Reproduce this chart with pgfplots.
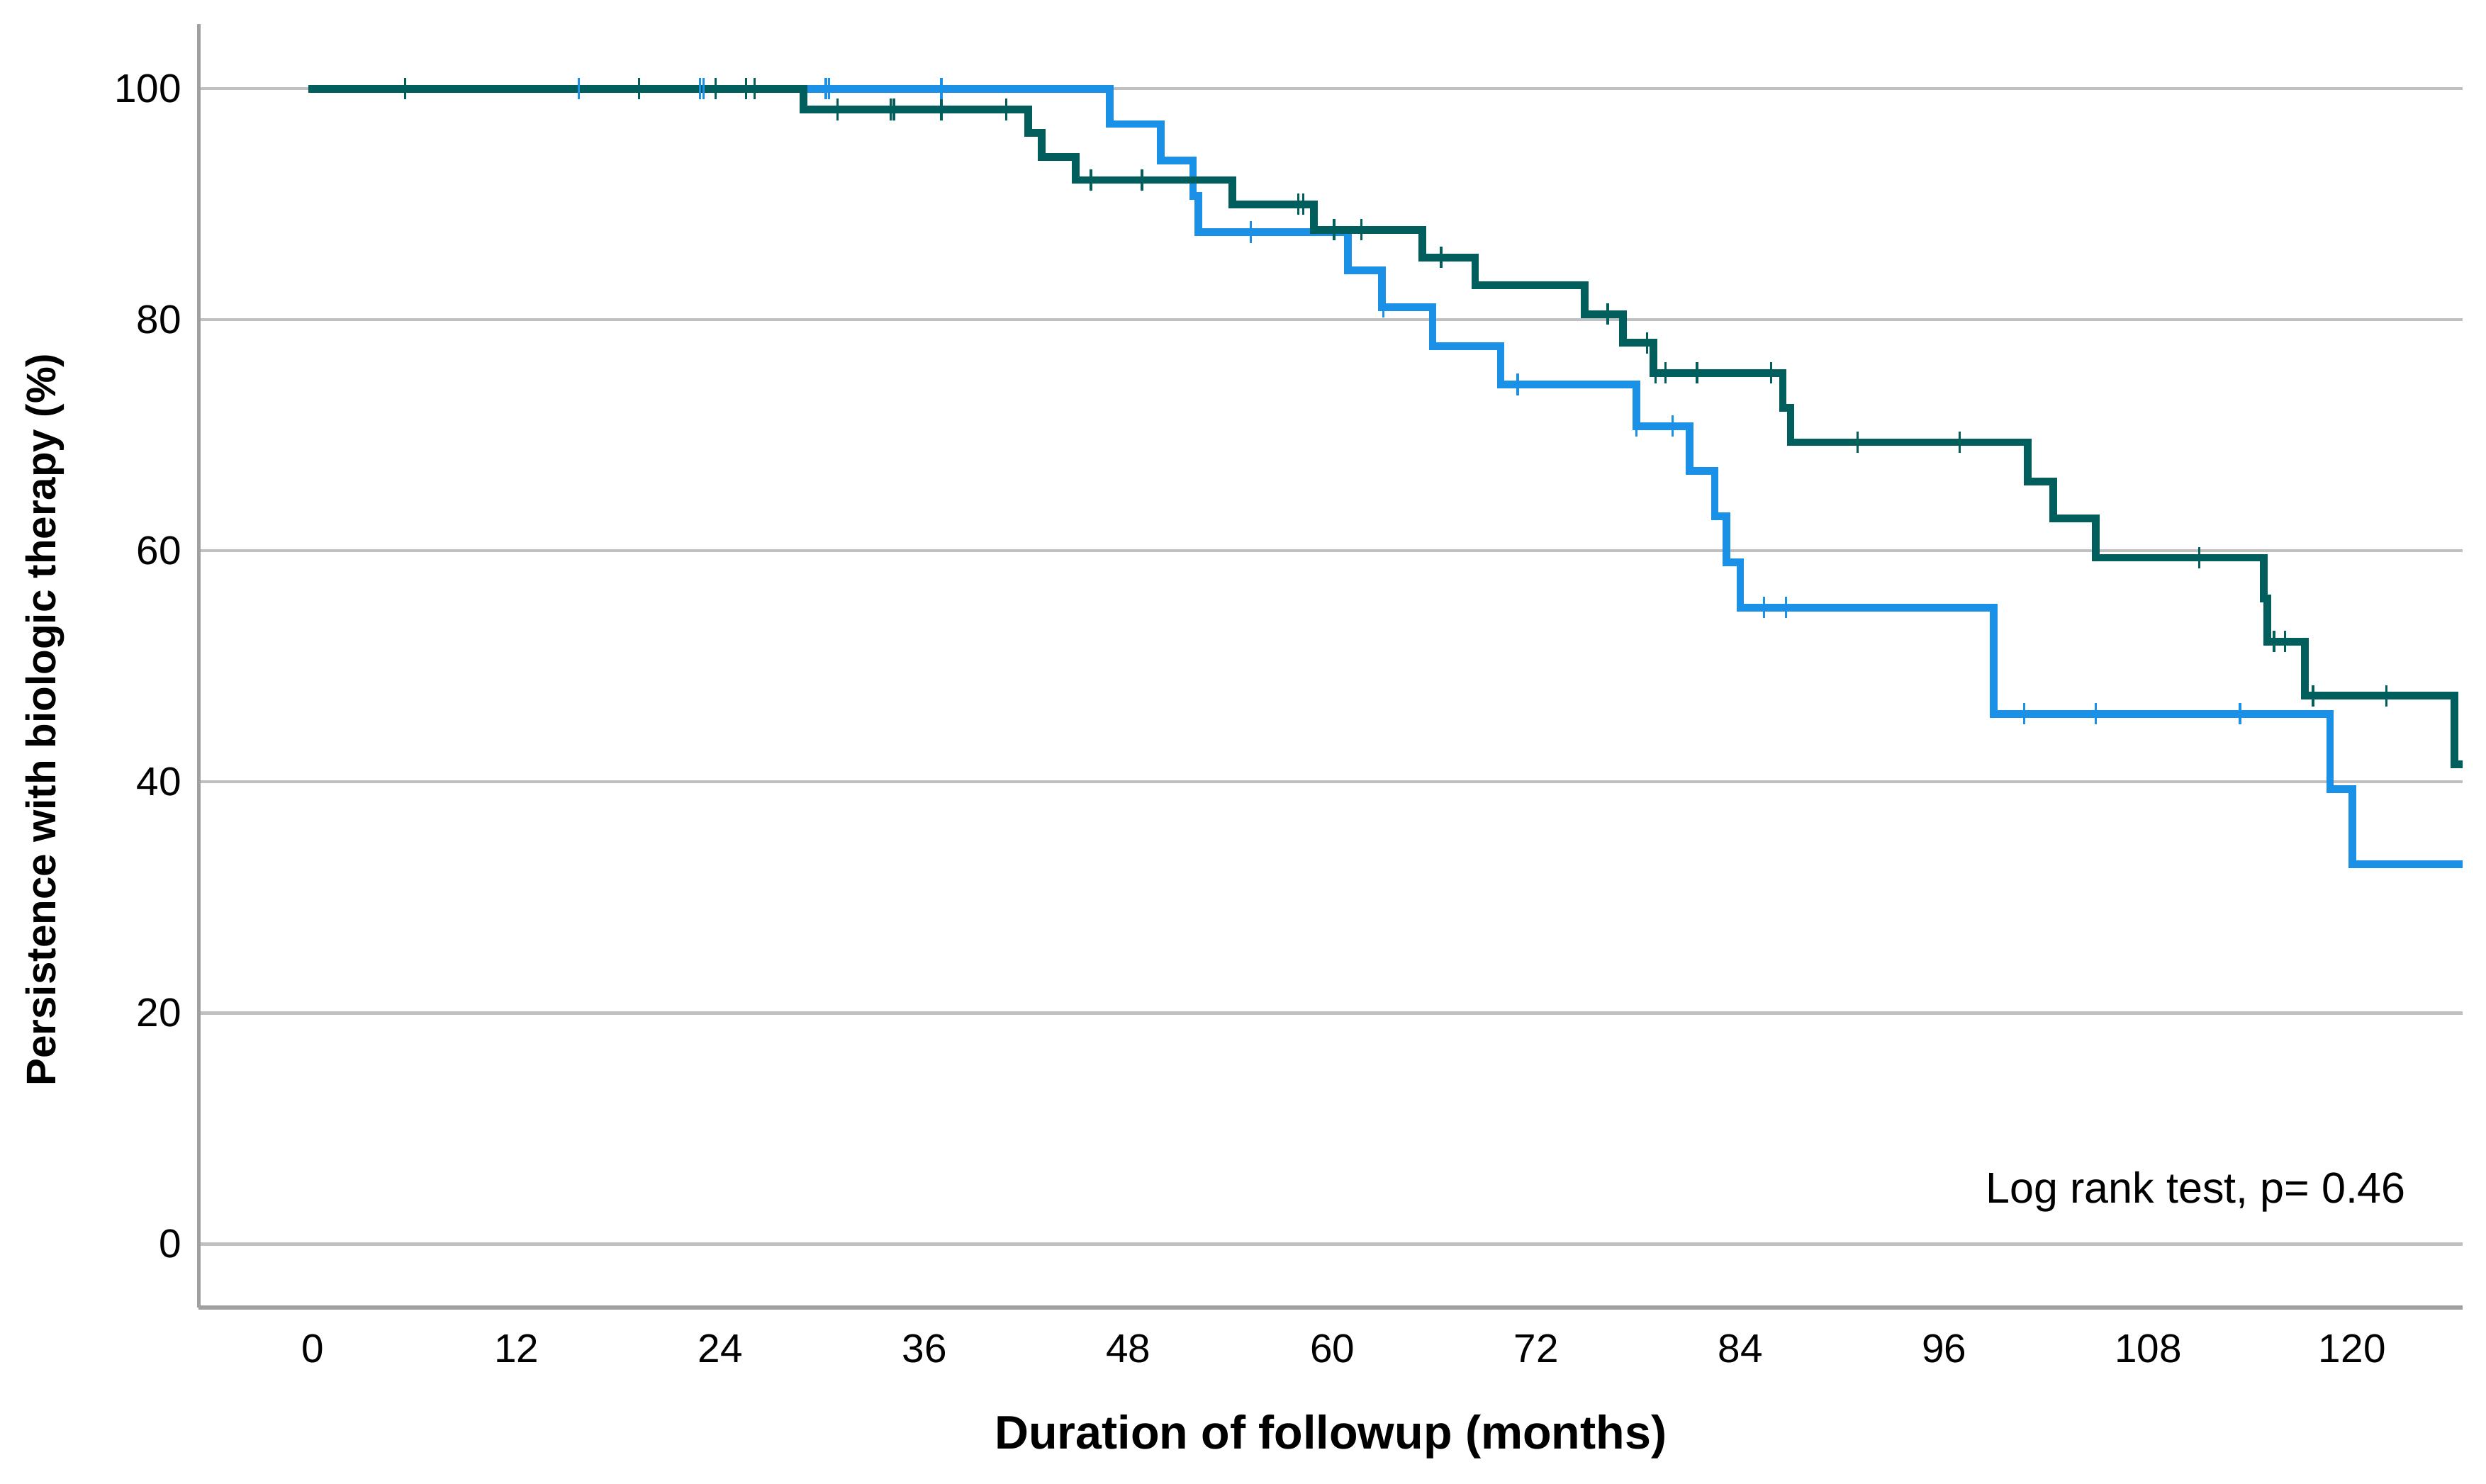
\documentclass[border=0pt]{standalone}
\usepackage{fontspec}
\setmainfont{Liberation Sans}
\usepackage{pgfplots}
\pgfplotsset{compat=1.18}
\definecolor{darkteal}{HTML}{005E5C}
\definecolor{kmblue}{HTML}{1A91E6}
\definecolor{gridgray}{HTML}{C0C0C0}
\definecolor{axisgray}{HTML}{A0A0A0}
\begin{document}
\begin{tikzpicture}
\begin{axis}[
  scale only axis,
  width=591.5pt, height=335.4pt,
  xmin=-6.7, xmax=126.5, ymin=-5.5, ymax=105.6,
  axis lines*=left,
  axis line style={axisgray, line width=1pt},
  xtick={0,12,...,120}, ytick={0,20,...,100},
  major tick length=0pt,
  ymajorgrids, grid style={gridgray, line width=0.8pt},
  font=\fontsize{10.5}{12}\selectfont,
  /pgf/number format/assume math mode=true,
  xticklabel style={yshift=-3.5pt},
  yticklabel style={xshift=-1pt},
  xlabel={\bfseries Duration of followup (months)},
  ylabel={\bfseries Persistence with biologic therapy (\%)},
  xlabel style={at={(axis description cs:0.5,-0.1005)}, anchor=center, font=\fontsize{12.3}{14}\selectfont},
  ylabel style={at={(axis description cs:-0.0677,0.458)}, anchor=center, font=\fontsize{10.8}{13}\selectfont},
  clip=true,
]
% blue group
\addplot[const plot, kmblue, line width=2pt, line cap=rect] coordinates {
(0,100) (46.9,96.95) (49.9,93.8) (51.8,90.7) (52.1,87.6) (60.9,84.3) (62.9,81.1)
(65.9,77.7) (69.9,74.4) (77.9,70.8) (81.0,66.9) (82.5,63.0) (83.2,59.0) (84.0,55.1)
(98.9,45.9) (118.7,39.4) (120.0,32.85) (126.5,32.85)};
% dark group
\addplot[const plot, darkteal, line width=2pt, line cap=rect] coordinates {
(0,100) (28.9,98.2) (42.1,96.2) (42.9,94.1) (44.9,92.1) (54.1,90.0) (58.9,87.8)
(65.3,85.4) (68.4,83.0) (74.85,80.5) (77.1,78.0) (78.9,75.4) (86.5,72.4) (86.96,69.4)
(100.9,66.0) (102.4,62.8) (104.9,59.4) (114.8,55.9) (115.0,52.15) (117.2,47.45)
(126.0,41.5) (126.5,41.5)};
% censored marks, dark group
\addplot[only marks, mark=|, mark size=2.8pt, darkteal, mark options={line width=0.6pt}] coordinates {
(5.46,100) (19.2,100) (23.7,100) (25.5,100) (26.0,100) (30.9,98.2) (34.0,98.2) (34.2,98.2)
(37.0,98.2) (40.8,98.2) (45.8,92.1) (48.8,92.1) (58.0,90.0) (58.3,90.0) (60.1,87.8)
(61.7,87.8) (66.4,85.4) (76.2,80.5) (78.5,78.0) (79.0,75.4) (79.6,75.4) (81.45,75.4)
(85.8,75.4) (90.9,69.4) (96.9,69.4) (111.0,59.4) (114.9,55.9) (115.4,52.15) (116.05,52.15)
(117.7,47.45) (122.0,47.45)};
% censored marks, blue group
\addplot[only marks, mark=|, mark size=2.8pt, kmblue, mark options={line width=0.6pt}] coordinates {
(15.65,100) (22.8,100) (23.0,100) (30.2,100) (30.4,100) (37.0,100) (55.2,87.6) (63.0,81.1)
(70.9,74.4) (77.9,70.8) (80.0,70.8) (85.4,55.1) (86.7,55.1) (100.7,45.9) (104.9,45.9)
(113.4,45.9)};
\node[anchor=east, inner sep=0pt, font=\fontsize{11.3}{13}\selectfont] at (axis cs:123.2,4.5) {Log rank test, p= 0.46};
\end{axis}
\pgfresetboundingbox
\path[use as bounding box] ([shift={(-51.9pt,-46.1pt)}]current axis.south west) rectangle ([shift={(6.1pt,6.3pt)}]current axis.north east);
\end{tikzpicture}
\end{document}
